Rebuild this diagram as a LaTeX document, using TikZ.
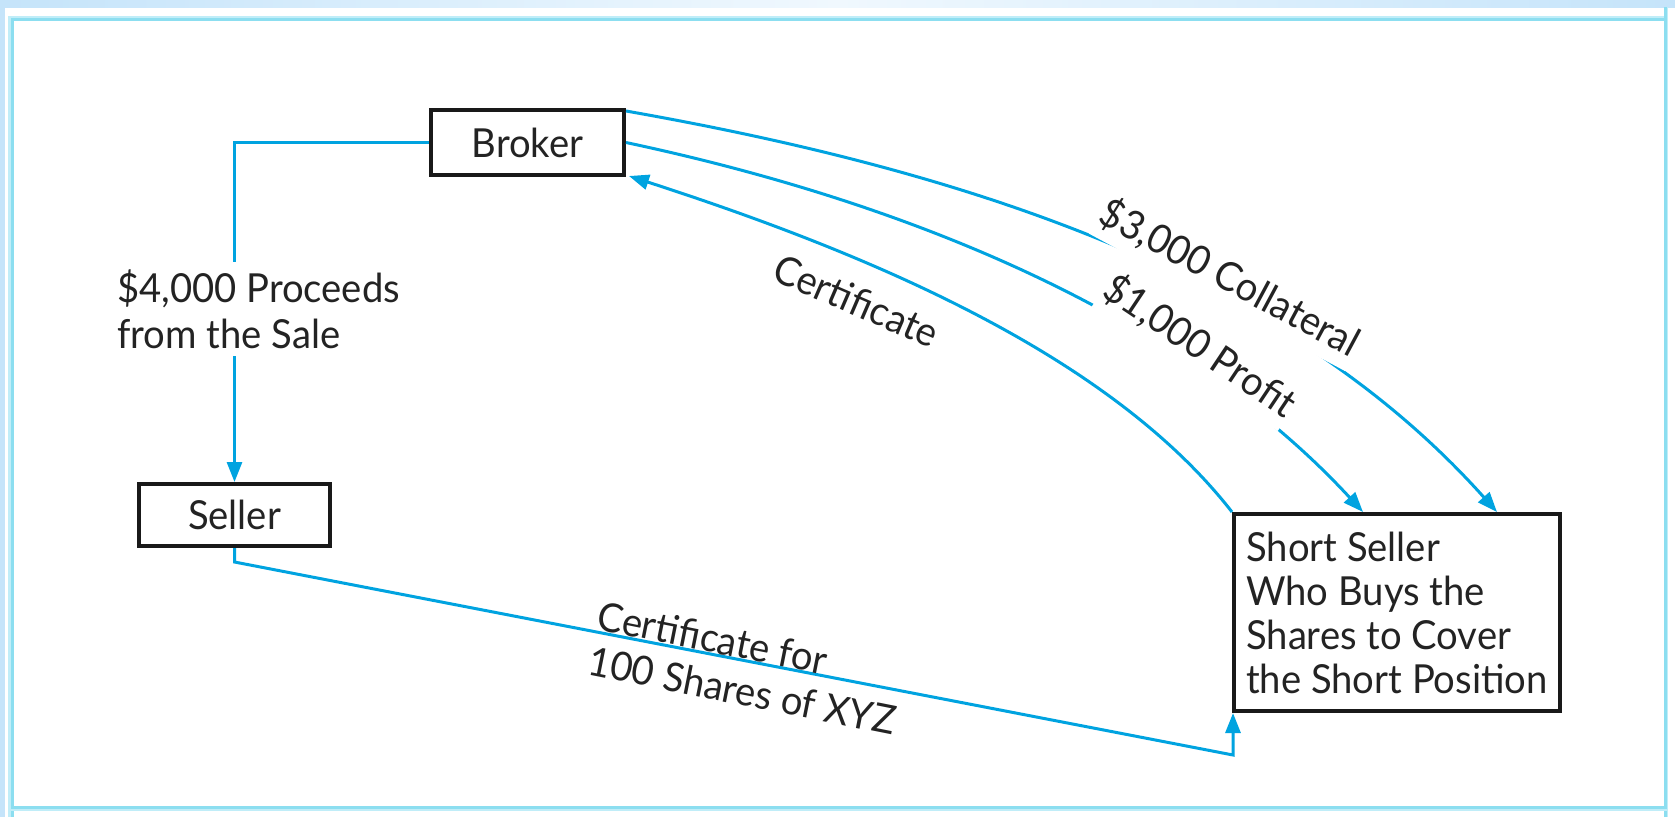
\documentclass[tikz,border=0pt]{standalone}
\usepackage{fontspec}
\setmainfont{Lato}[FakeStretch=0.955]
\usetikzlibrary{arrows.meta,calc}
\definecolor{flow}{RGB}{0,163,224}
\definecolor{frameC}{RGB}{140,222,240}
\definecolor{frameP}{RGB}{192,237,248}
\definecolor{bandC}{RGB}{197,228,250}
\definecolor{bandL}{RGB}{240,248,254}
\definecolor{boxline}{RGB}{25,25,25}
\definecolor{ink}{RGB}{35,35,35}
\begin{document}
\begin{tikzpicture}[x=1pt,y=-1pt,
  box/.style={draw=boxline, line width=4pt, fill=white, inner sep=0pt, text=ink, font=\fontsize{40}{44}\selectfont},
  flowline/.style={draw=flow, line width=3pt},
  tip/.style={-{Triangle[length=20pt,width=15pt]}},
  tipstart/.style={{Triangle[length=20pt,width=15pt]}-},
  lbl/.style={font=\fontsize{40}{46}\selectfont, text=ink},
  masklbl/.style={lbl, sloped, anchor=base, yshift=8pt, fill=white, text depth=13pt, inner sep=1pt},
]
\useasboundingbox (0,0) rectangle (1675,817);
% frame
\shade[left color=bandC, right color=bandC, middle color=bandL] (0,0) rectangle (1675,7);
\fill[bandC] (0,0) rectangle (5,817);
\fill[frameP] (8,16) rectangle (11,817);
\fill[frameC] (11,16) rectangle (14,817);
\fill[frameP] (11,16) rectangle (1668,18);
\fill[frameC] (11,18) rectangle (1667,21);
\fill[frameC] (1664,7) rectangle (1667,817);
\fill[frameP] (1667,7) rectangle (1668,817);
\fill[frameC] (11,806) rectangle (1667,809);
\fill[frameP] (11,809) rectangle (1667,811);

% boxes
\node[box, minimum width=193pt, minimum height=65pt] (broker) at (527.5,142.5) {Broker};
\node[box, minimum width=191pt, minimum height=62pt] (seller) at (234.5,515) {Seller};
\node[box, minimum width=326pt, minimum height=197pt, align=left] (ss) at (1397,612.5)
  {Short Seller\\Who Buys the\\Shares to Cover\\the Short Position};

% broker -> seller
\draw[flowline, tip] (broker.west) -| (seller.north);
\node[lbl, fill=white, align=left, anchor=west, inner xsep=3pt, inner ysep=7pt] (proc) at (114,309)
  {\$4,000 Proceeds\\from the Sale};

% seller -> short seller
\coordinate (sbend) at (1233,755);
\draw[flowline, tip] (seller.south) -- ++(0,14) -- (sbend) -- (sbend |- ss.south);
\node[lbl, rotate=-11.3, align=left] (certlab) at (747,668) {Certificate for\\100 Shares of XYZ};

% broker -> short seller curves
\draw[flowline, tip] ($(broker.north east)+(0,3)$) .. controls (1001,177) and (1296,287) ..
  ($(ss.north west)+(265,0)$) node[masklbl, pos=0.61] {\$3,000 Collateral};
\draw[flowline, tip] (broker.east) .. controls (920,205) and (1186,320) ..
  ($(ss.north west)+(131,0)$) node[masklbl, pos=0.71] {\$1,000 Profit};
\draw[flowline, tipstart] ($(broker.south east)+(3,-1)$) .. controls (867,253) and (1109,354) ..
  (ss.north west) node[lbl, sloped, pos=0.345, below=22pt, inner sep=0pt] {Certificate};
\end{tikzpicture}
\end{document}
